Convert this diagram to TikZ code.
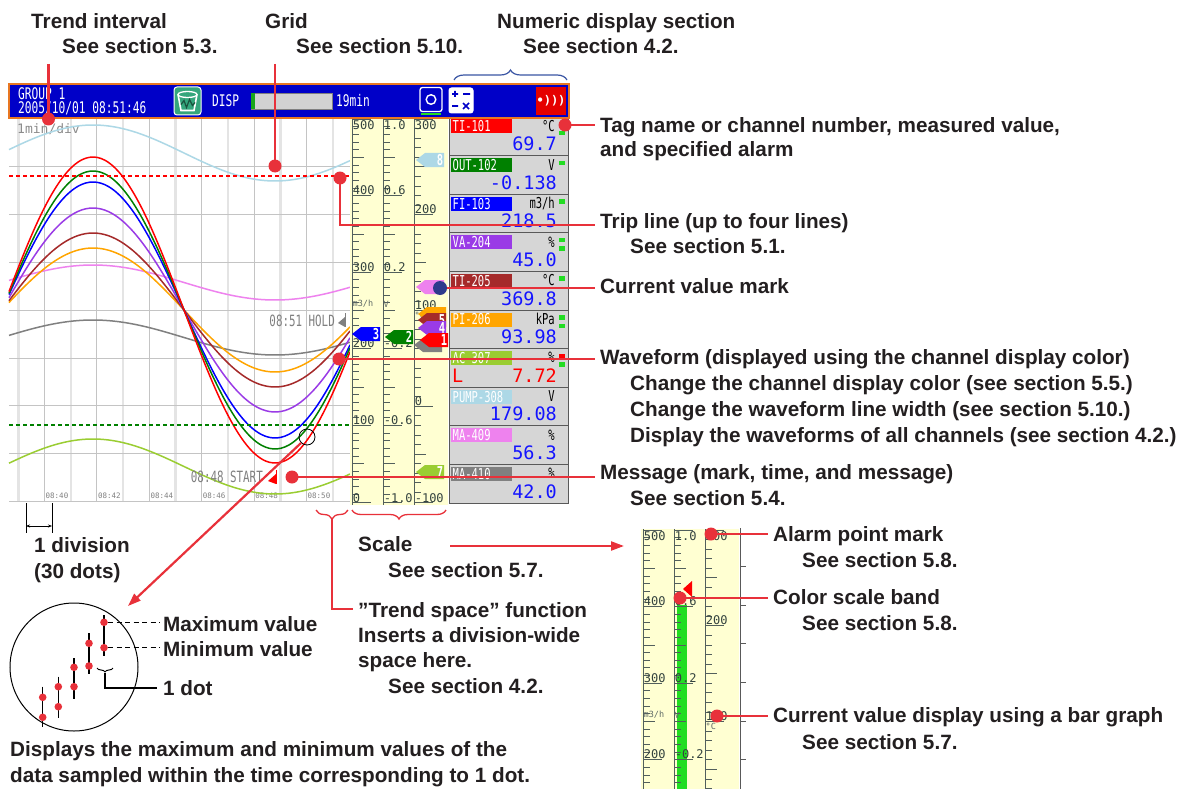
\documentclass[tikz,border=0pt]{standalone}
\usepackage{fontspec}
\setmainfont{Liberation Sans}
\newfontfamily\screenfont{DejaVu Sans Mono}
\newfontfamily\screennarrow{DejaVu Sans Mono}[FakeStretch=0.7]
\usetikzlibrary{arrows.meta}
\usetikzlibrary{calc}
\usetikzlibrary{decorations.pathreplacing}
\usetikzlibrary{positioning}
\definecolor{callred}{HTML}{E8313A}
\definecolor{inktext}{HTML}{231F20}
\definecolor{hdrblue}{HTML}{0000C8}
\definecolor{hdrorange}{HTML}{E87722}
\definecolor{scaleyellow}{HTML}{FFFFD2}
\definecolor{scaleink}{HTML}{34433F}
\definecolor{gridgray}{HTML}{C4C4C4}
\definecolor{gridlight}{HTML}{E4E4E4}
\definecolor{rowgray}{HTML}{D6D6D6}
\definecolor{valblue}{HTML}{1414FF}
\definecolor{chred}{HTML}{FF0000}
\definecolor{chgreen}{HTML}{008000}
\definecolor{chblue}{HTML}{0000FF}
\definecolor{chpurple}{HTML}{9A3BE6}
\definecolor{chbrown}{HTML}{A52A2A}
\definecolor{chorange}{HTML}{FFA500}
\definecolor{chlime}{HTML}{9ACD32}
\definecolor{chlightblue}{HTML}{ADD8E6}
\definecolor{chpink}{HTML}{EE82EE}
\definecolor{chgray}{HTML}{808080}
\definecolor{lampgreen}{HTML}{22DD22}
\definecolor{bracketblue}{HTML}{3A55A4}
\definecolor{markblue}{HTML}{2E3A8C}
\definecolor{icongreen}{HTML}{34A67C}
\tikzset{
    label text/.style={
        font=\fontsize{20.7}{24}\selectfont\bfseries,
        text=inktext,
        inner sep=0,
        anchor=base west,
    },
    call text/.style={
        label text,
        inner xsep=5pt,
    },
    call line/.style={
        draw=callred,
        line width=2.2pt,
    },
    call dot/.style={
        fill=callred,
        circle,
        minimum size=13pt,
        inner sep=0,
    },
    call bracket/.style={
        line width=1.4pt,
        decorate,
        decoration={brace, amplitude=9pt},
    },
    grid line/.style={
        draw=gridgray,
        line width=0.9pt,
    },
    grid band/.style={
        draw=gridlight,
        line width=2.4pt,
    },
    wave/.style={
        line width=1.5pt,
    },
    trip line/.style={
        line width=1.6pt,
        dash pattern=on 4pt off 3pt,
    },
    scale tick/.style={
        draw=scaleink!85,
        line width=0.8pt,
    },
    scale num/.style={
        font=\screenfont\fontsize{12}{12}\selectfont,
        text=scaleink,
        inner sep=0.6pt,
    },
    unit small/.style={
        font=\screenfont\fontsize{8.5}{9}\selectfont,
        text=scaleink!80,
        inner sep=0.5pt,
        anchor=west,
    },
    screen text/.style={
        font=\screennarrow\fontsize{16}{16}\selectfont,
        text=white,
        inner sep=0,
        anchor=west,
    },
    tag text/.style={
        font=\screennarrow\fontsize{15}{15}\selectfont,
        text=white,
        inner sep=0,
        anchor=west,
    },
    unit text/.style={
        font=\screennarrow\fontsize{15}{15}\selectfont,
        text=black,
        inner sep=0,
        anchor=east,
    },
    value text/.style={
        font=\screenfont\fontsize{18.5}{18.5}\selectfont,
        text=valblue,
        inner sep=0,
        anchor=base east,
    },
    message text/.style={
        font=\screennarrow\fontsize{15.5}{16}\selectfont,
        text=gray,
        inner sep=0,
        anchor=east,
    },
    flag num/.style={
        font=\screennarrow\bfseries\fontsize{15}{15}\selectfont,
        text=white,
        inner sep=0.5pt,
        anchor=east,
    },
}

\begin{document}
\begin{tikzpicture}[x=1pt, y=-1pt]
    \useasboundingbox (0,0) rectangle (1194,789);
    \fill[white] (0,0) rectangle (1194,789);

    % trend area with grid
    \fill[white] (9,118) rectangle (350,502);
    \foreach \i in {0,...,12}
    {
        \ifodd\i
            \draw[grid line] ({18.3+26.2*\i},118) -- ({18.3+26.2*\i},502);
        \else
            \draw[grid band] ({18.3+26.2*\i},118) -- ({18.3+26.2*\i},502);
        \fi
    }
    \foreach \k in {1,...,8}
    {
        \draw[grid line] (9,{119+47.8*\k}) -- (350,{119+47.8*\k});
    }
    \foreach \t [count=\k from 0] in {40,42,...,50}
    {
        \node[font=\screenfont\fontsize{7.5}{8}\selectfont, text=gray, anchor=west, inner sep=0.5pt] (time\t) at ({45+52.4*\k},496) {08:\t};
    }
    \node[font=\screenfont\fontsize{13}{13}\selectfont, text=gray!90, anchor=west, inner sep=0] (perdiv) at (17,129) {1min/div};

    % waveforms
    \foreach \col/\mid/\amp in {chlightblue/153/28, chgray/337.5/17.5, chpink/282.5/17.5, chlime/466.5/27.5,
        chorange/310/62, chbrown/310/77, chpurple/310/102, chblue/310/128, chgreen/310/139, chred/310/153}
    {
        \draw[wave, draw=\col] plot[domain=9:350, samples=90, smooth] (\x, {\mid-\amp*sin(0.98901*(\x-2))});
    }
    \draw[trip line, draw=chred] (9,175.7) -- (350,175.7);
    \draw[trip line, draw=chgreen] (9,424.7) -- (350,424.7);

    % messages
    \node[message text] (holdmsg) at (335,321) {08:51 HOLD};
    \fill[gray] (338,323) -- (345,317) -- (345,327) -- cycle;
    \draw[gray, line width=1pt] (345,313) -- (345,327);
    \node[message text] (startmsg) at (263,477) {08:48 START};
    \fill[chred] (268,481) -- (276,474) -- (276,484) -- cycle;
    \draw[chred, line width=1pt] (276,470) -- (276,484);
    \node[draw, circle, minimum size=16pt, inner sep=0, line width=0.8pt] (zoomring) at (307,437) {};

    % scales
    \newcommand\scaleback{
        \fill[scaleyellow] (350,118) rectangle (448,505);
    }
    \newcommand\scaleticks{
        \foreach \cx in {352,383}
        {
            \draw[scale tick] (\cx,118) -- (\cx,505);
            \foreach \i in {0,...,50}
            {
                \pgfmathsetmacro\tl{mod(\i,10)==0 ? 19 : (mod(\i,5)==0 ? 12 : 7)}
                \draw[scale tick] (\cx,119+7.66*\i) -- ++(\tl,0);
            }
        }
        \draw[scale tick] (414,118) -- (414,505);
        \foreach \i in {0,...,40}
        {
            \pgfmathsetmacro\tl{mod(\i,10)==0 ? 19 : (mod(\i,5)==0 ? 12 : 7)}
            \draw[scale tick] (414,119+9.575*\i) -- ++(\tl,0);
        }
        \node[scale num, anchor=north west] (sa0) at (352,120) {500};
        \foreach \v [count=\k] in {400,300,200,100}
            \node[scale num, anchor=south west] (sa\k) at (352,119+76.6*\k) {\v};
        \node[scale num, anchor=south west] (sa5) at (352,503) {0};
        \node[scale num, anchor=north west] (sb0) at (383,120) {1.0};
        \foreach \v [count=\k] in {0.6,0.2,-0.2,-0.6}
            \node[scale num, anchor=south west] (sb\k) at (383,119+76.6*\k) {\v};
        \node[scale num, anchor=south west] (sb5) at (383,503) {-1.0};
        \node[scale num, anchor=north west] (sc0) at (414,120) {300};
        \foreach \v [count=\k] in {200,100,0}
            \node[scale num, anchor=south west] (sc\k) at (414,119+95.75*\k) {\v};
        \node[scale num, anchor=south west] (sc4) at (414,503) {-100};
        \node[unit small] (ua) at (352,304) {m3/h};
        \node[unit small] (ub) at (383,304) {V};
        \node[unit small] (uc) at (414,315) {°C};
    }
    \newcommand\valueflag[4]{
        \fill[#3] (#1+2,#2) -- (#1+11,#2-7) -- (#1+30,#2-7) -- (#1+30,#2+7) -- (#1+11,#2+7) -- cycle;
        \node[flag num] at (#1+30,#2) {#4};
    }
    \scaleback
    \scaleticks
    \valueflag{414}{160}{chlightblue}{8}
    \valueflag{414}{287}{chpink}{}
    \valueflag{350}{334}{chblue}{3}
    \valueflag{383}{337}{chgreen}{2}
    \valueflag{416}{314}{chorange}{}
    \valueflag{416}{320}{chbrown}{5}
    \valueflag{416}{328}{chpurple}{4}
    \valueflag{412}{345}{chgray}{}
    \valueflag{418}{340}{chred}{1}
    \valueflag{414}{472}{chlime}{7}

    % numeric display section
    \foreach \tagname/\tagcol/\unitname/\val [count=\rw from 0] in {TI-101/chred/{°C}/69.7,
        OUT-102/chgreen/V/-0.138, FI-103/chblue/{m3/h}/218.5, VA-204/chpurple/\%/45.0,
        TI-205/chbrown/{°C}/369.8, PI-206/chorange/kPa/93.98, AC-307/chlime/\%/{\textcolor{chred}{7.72}},
        PUMP-308/chlightblue/V/179.08, MA-409/chpink/\%/56.3, MA-410/chgray/\%/42.0}
    {
        \draw[draw=gray!70!black, fill=rowgray, line width=0.8pt] (449,117+38.6*\rw) rectangle (568,155.6+38.6*\rw);
        \node[fill=\tagcol, minimum width=61pt, minimum height=14pt, inner sep=0, anchor=north west] (tag\rw) at (451,119.3+38.6*\rw) {};
        \node[tag text] (tagtext\rw) at ([xshift=1.5pt]tag\rw.west) {\tagname};
        \node[unit text] (unit\rw) at (555,126+38.6*\rw) {\unitname};
        \node[value text] (val\rw) at (557,150.7+38.6*\rw) {\val};
    }
    \node[value text, anchor=base west, text=chred] (lowalarm) at (452,382.3) {L};
    \foreach \rw/\off/\lc in {0/14/lampgreen, 1/5/lampgreen, 2/5/lampgreen, 3/5/lampgreen, 3/13.5/lampgreen,
        4/5/lampgreen, 5/5/lampgreen, 5/13.5/lampgreen, 6/5/chred, 6/13.5/lampgreen}
    {
        \fill[\lc] (558.5,117+38.6*\rw+\off) rectangle ++(6,4.5);
    }

    % status bar
    \draw[hdrorange, line width=2pt, fill=hdrblue] (9,84) rectangle (569,118);
    \node[screen text] (grp) at (18,94) {GROUP 1};
    \node[screen text] (stamp) at (18,108.5) {2005/10/01 08:51:46};
    \node[draw=white, fill=icongreen, rounded corners=3pt, minimum width=27pt, minimum height=28pt, line width=1pt] (trendicon) at (187.5,101) {};
    \draw[white, line width=1.6pt] (178,94.5) -- (181,110.5) -- (194,110.5) -- (197,94.5);
    \draw[white, line width=1.3pt] (187.5,94.5) ellipse (9.5 and 3);
    \draw[icongreen!50!black, line width=1.2pt] (181,104.5) -- (184,100.5) -- (186.5,107.5) -- (189.5,99.5) -- (192.5,105.5) -- (195,102.5);
    \node[screen text] (disp) at (212,100.5) {DISP};
    \node[draw=gray, fill=gray!35, minimum width=81pt, minimum height=16pt, inner sep=0, anchor=west] (membar) at (251,101) {};
    \fill[lampgreen!75!black] (membar.north west) rectangle ([xshift=4pt]membar.south west);
    \node[screen text] (memtime) at (336,101) {19min};
    \node[draw=white, fill=hdrblue, rounded corners=2.5pt, minimum width=22pt, minimum height=24pt, line width=1.3pt] (camicon) at (431,99.5) {};
    \draw[white, line width=1.4pt] (camicon.center) circle (4.8);
    \draw[lampgreen, line width=1.6pt] ([xshift=2pt, yshift=-2pt]camicon.south west) -- ([xshift=-2pt, yshift=-2pt]camicon.south east);
    \node[draw=white, fill=white, rounded corners=2.5pt, minimum width=24pt, minimum height=25pt, line width=1pt] (calcicon) at (461,100.5) {};
    \draw[hdrblue, line width=1.6pt] (452,94) -- (458,94) (455,91) -- (455,97) (463,94) -- (470,94)
        (452,106) -- (458,106) (463,103) -- (469,109) (463,109) -- (469,103);
    \node[fill=chred!90!black, minimum width=30pt, minimum height=28pt, inner sep=0, text=white,
        font=\screenfont\bfseries\fontsize{12}{12}\selectfont] (alarmicon) at (551,101) {•)))};

    % callouts along the top
    \node[label text] (tInterval) at (31,29) {Trend interval};
    \node[label text] (tInterval2) at (62,54) {See section 5.3.};
    \coordinate (eInterval) at (48.5,64);
    \node[call dot] (dInterval) at (48.5,119) {};
    \draw[call line] (eInterval) -- (dInterval.center);
    \node[label text] (tGrid) at (265,29) {Grid};
    \node[label text] (tGrid2) at (296,54) {See section 5.10.};
    \coordinate (eGrid) at (275,64);
    \node[call dot] (dGrid) at (275,166) {};
    \draw[call line] (eGrid) -- (dGrid.center);
    \node[label text] (tNumeric) at (497,29) {Numeric display section};
    \node[label text] (tNumeric2) at (523,54) {See section 4.2.};
    \draw[call bracket, draw=bracketblue, line width=1.2pt, decoration={amplitude=10pt}] (454,80) -- (567,80);

    % callouts on the right
    \node[call text] (tTag) at (595,132) {Tag name or channel number, measured value,};
    \node[label text] (tTag2) at (600,157) {and specified alarm};
    \node[call dot] (dTag) at (565,125) {};
    \draw[call line] (dTag.center) -- (dTag.center -| tTag.west);

    \node[call text] (tTrip) at (595,228) {Trip line (up to four lines)};
    \node[label text] (tTrip2) at (630,253) {See section 5.1.};
    \node[call dot] (dTrip) at (340,178) {};
    \coordinate (tripBend) at (340,225);
    \draw[call line] (dTrip.center) -- (tripBend) -- (tripBend -| tTrip.west);

    \node[call text] (tMark) at (595,293) {Current value mark};
    \coordinate (dMark) at (440,288);
    \draw[call line] (dMark) -- (dMark -| tMark.west);
    \node[fill=markblue, circle, minimum size=14pt, inner sep=0] (markdot) at (dMark) {};

    \node[call text] (tWave) at (595,364) {Waveform (displayed using the channel display color)};
    \node[label text] (tWave2) at (630,390) {Change the channel display color (see section 5.5.)};
    \node[label text] (tWave3) at (630,416) {Change the waveform line width (see section 5.10.)};
    \node[label text] (tWave4) at (630,442) {Display the waveforms of all channels (see section 4.2.)};
    \node[call dot] (dWave) at (339,359) {};
    \draw[call line] (dWave.center) -- (dWave.center -| tWave.west);

    \node[call text] (tMsg) at (595,479) {Message (mark, time, and message)};
    \node[label text] (tMsg2) at (630,505) {See section 5.4.};
    \node[call dot] (dMsg) at (292,477) {};
    \draw[call line] (dMsg.center) -- (dMsg.center -| tMsg.west);

    % one division
    \coordinate (divA) at (26,503);
    \coordinate (divB) at (52,503);
    \draw[line width=1pt] (divA) -- ++(0,30) (divB) -- ++(0,30);
    \draw[line width=1pt, {Stealth[length=4pt]}-{Stealth[length=4pt]}] ($(divA)+(0,23)$) -- ($(divB)+(0,23)$);
    \node[label text] (tDiv) at (34,552) {1 division};
    \node[label text] (tDiv2) at (34,578) {(30 dots)};

    % scale and trend space
    \draw[call bracket, draw=callred, line width=1.3pt] (446,510) -- (352,510);
    \draw[call bracket, draw=callred, line width=1.3pt] (348,510) -- (316,510);
    \node[label text] (tScale) at (358,551) {Scale};
    \node[label text] (tScale2) at (388,577) {See section 5.7.};
    \coordinate (scaleFrom) at (450,546);
    \coordinate (scaleTo) at (624,546);
    \draw[call line, -{Triangle[length=13pt, width=9pt]}] (scaleFrom) -- (scaleTo);
    \node[call text] (tSpace) at (353,617) {"Trend space" function};
    \node[label text] (tSpace2) at (358,642) {Inserts a division-wide};
    \node[label text] (tSpace3) at (358,667) {space here.};
    \node[label text] (tSpace4) at (388,693) {See section 4.2.};
    \coordinate (spaceTip) at (332,519);
    \coordinate (spaceBend) at (332,609);
    \draw[call line, line width=1.6pt] (spaceTip) -- (spaceBend) -- (spaceBend -| tSpace.west);

    % magnified view of the dots
    \node[draw, circle, minimum size=128pt, inner sep=0, line width=1pt] (magnify) at (74,667) {};
    \coordinate (magnifyTip) at (128,606);
    \draw[call line, -{Triangle[length=13pt, width=9pt]}] (zoomring.225) -- (magnifyTip);
    \foreach \px/\ptop/\pbot/\dmax/\dmin [count=\j] in {42.7/686.7/726.7/697.3/717.3, 58.3/676.7/717.7/686.7/706.7,
        74/658/699/667.3/686.7, 89/633/674/643.3/666, 104/615/655.7/622.3/647.7}
    {
        \draw[line width=1.5pt] (\px,\ptop) -- (\px,\pbot);
        \node[fill=callred, circle, minimum size=7.6pt, inner sep=0] (maxdot\j) at (\px,\dmax) {};
        \node[fill=callred, circle, minimum size=7.6pt, inner sep=0] (mindot\j) at (\px,\dmin) {};
    }
    \node[label text, inner xsep=3pt] (tMax) at (160,631) {Maximum value};
    \node[label text, inner xsep=3pt] (tMin) at (160,656) {Minimum value};
    \draw[line width=1pt, dash pattern=on 5pt off 3.5pt] (maxdot5) -- (maxdot5 -| tMax.west);
    \draw[line width=1pt, dash pattern=on 5pt off 3.5pt] (mindot5) -- (mindot5 -| tMin.west);
    \draw[line width=1pt, decorate, decoration={brace, amplitude=4pt}] (113,668) -- (97,668);
    \node[label text, inner xsep=6pt] (tDot) at (157,695) {1 dot};
    \coordinate (dotTip) at (105,673);
    \coordinate (dotBend) at (105,688);
    \draw[line width=1.2pt] (dotTip) -- (dotBend) -- (dotBend -| tDot.west);
    \node[label text] (tBottom) at (10,756) {Displays the maximum and minimum values of the};
    \node[label text] (tBottom2) at (10,782) {data sampled within the time corresponding to 1 dot.};

    % enlarged scale with bar graph
    \begin{scope}
        \clip (636,528) rectangle (746,789);
        \begin{scope}[shift={(291,411)}]
            \scaleback
            \fill[lampgreen] (386,194) rectangle (396,505);
            \scaleticks
        \end{scope}
        \draw[gray!70!black, line width=0.8pt] (740,528) -- (740,789);
        \foreach \k in {1,...,6}
            \draw[gray!70!black, line width=0.8pt] (740,{528+38.6*\k}) -- (746,{528+38.6*\k});
    \end{scope}
    \fill[chred] (683,589) -- (692,581) -- (692,597) -- cycle;

    \node[call text] (tAlarm) at (768,541) {Alarm point mark};
    \node[label text] (tAlarm2) at (802,567) {See section 5.8.};
    \node[call dot] (dAlarm) at (711,534) {};
    \draw[call line] (dAlarm.center) -- (dAlarm.center -| tAlarm.west);
    \node[call text] (tBand) at (768,604) {Color scale band};
    \node[label text] (tBand2) at (802,630) {See section 5.8.};
    \node[call dot] (dBand) at (680,598) {};
    \draw[call line] (dBand.center) -- (dBand.center -| tBand.west);
    \node[call text] (tBar) at (768,722) {Current value display using a bar graph};
    \node[label text] (tBar2) at (802,749) {See section 5.7.};
    \node[call dot] (dBar) at (717,716) {};
    \draw[call line] (dBar.center) -- (dBar.center -| tBar.west);
\end{tikzpicture}
\end{document}
